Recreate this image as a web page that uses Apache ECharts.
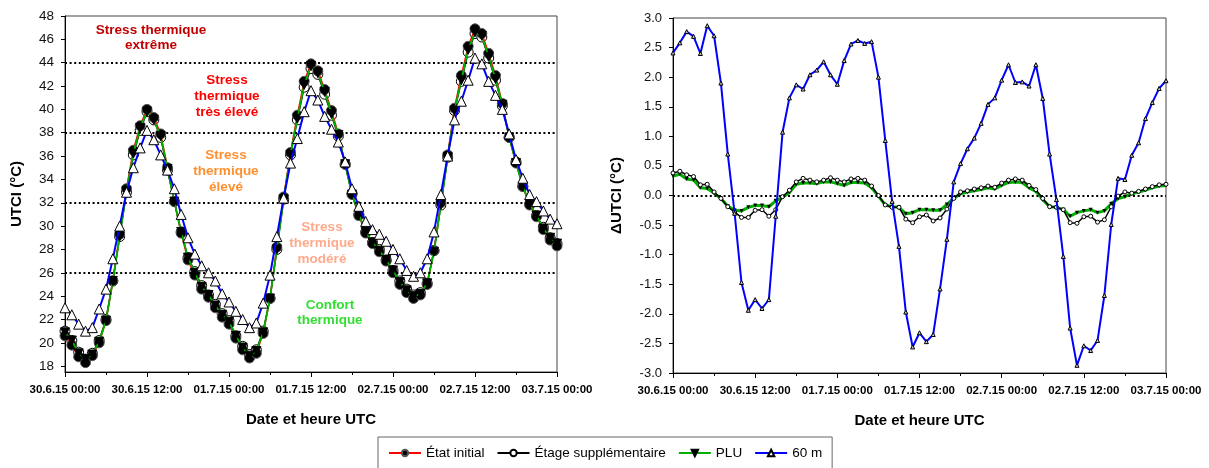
<!DOCTYPE html>
<html>
<head>
<meta charset="utf-8">
<script src="https://cdn.jsdelivr.net/npm/echarts@6/dist/echarts.min.js"></script>
<style>
  html, body { margin: 0; padding: 0; background: #fff; }
  #chart { width: 1209px; height: 468px; }
</style>
</head>
<body>
<div id="chart"></div>
<script>
// hourly values, 30.6.15 00:00 -> 03.7.15 00:00 (73 points)
var xTickLabels = ['30.6.15 00:00', '30.6.15 12:00', '01.7.15 00:00', '01.7.15 12:00', '02.7.15 00:00', '02.7.15 12:00', '03.7.15 00:00'];
var utciTicks = [18, 20, 22, 24, 26, 28, 30, 32, 34, 36, 38, 40, 42, 44, 46, 48];
var stressLimits = [26, 32, 38, 44];

var etatInitial = [20.6, 19.8, 18.8, 18.3, 18.9, 20.0, 21.9, 25.3, 29.3, 33.2, 36.5, 38.6, 40.0, 39.3, 37.9, 35.0, 32.1, 29.4, 27.1, 25.8, 24.6, 23.9, 23.0, 22.2, 21.6,
  20.4, 19.4, 18.7, 19.1, 20.8, 23.8, 28.2, 32.5, 36.3, 39.5, 42.4, 43.9, 43.3, 41.7, 39.9, 37.9, 35.3, 32.7, 30.9, 29.4, 28.5, 27.8, 27.0, 26.0,
  25.0, 24.3, 23.8, 24.1, 25.0, 27.9, 32.0, 36.1, 40.1, 42.9, 45.4, 46.9, 46.5, 44.8, 42.9, 40.5, 37.6, 35.4, 33.4, 31.8, 30.8, 29.7, 28.8, 28.3];
var etageSupp = [21.0, 20.2, 19.2, 18.6, 19.1, 20.2, 22.0, 25.3, 29.1, 32.9, 36.1, 38.2, 39.8, 39.1, 37.6, 34.8, 32.1, 29.5, 27.3, 26.1, 24.9, 24.1, 23.3, 22.5, 21.9,
  20.6, 19.7, 19.0, 19.4, 21.0, 23.8, 28.0, 32.3, 36.1, 39.1, 41.9, 43.5, 43.0, 41.3, 39.5, 37.7, 35.3, 32.8, 31.0, 29.5, 28.6, 28.0, 27.1, 26.2,
  25.3, 24.6, 24.1, 24.3, 25.1, 27.9, 31.8, 35.9, 39.9, 42.4, 44.9, 46.5, 46.2, 44.4, 42.5, 40.3, 37.6, 35.5, 33.4, 31.9, 30.9, 29.9, 29.0, 28.5];
var plu = [20.9, 20.2, 19.1, 18.6, 19.0, 20.1, 21.9, 25.3, 29.1, 33.0, 36.2, 38.4, 39.8, 39.1, 37.7, 34.9, 32.1, 29.5, 27.3, 26.0, 24.8, 24.1, 23.2, 22.4, 21.8,
  20.6, 19.6, 18.9, 19.3, 20.9, 23.8, 28.0, 32.3, 36.1, 39.2, 42.1, 43.7, 43.1, 41.5, 39.6, 37.8, 35.3, 32.7, 31.0, 29.5, 28.6, 27.9, 27.1, 26.2,
  25.2, 24.5, 24.0, 24.2, 25.1, 27.8, 31.8, 35.9, 39.9, 42.5, 45.1, 46.6, 46.3, 44.5, 42.6, 40.4, 37.6, 35.4, 33.4, 31.9, 30.9, 29.8, 29.0, 28.5];
var m60 = [23.0, 22.4, 21.6, 21.0, 21.3, 22.9, 24.6, 27.2, 30.0, 32.9, 35.0, 36.7, 38.2, 37.4, 36.1, 34.8, 33.2, 31.0, 29.0, 27.6, 26.6, 26.0, 25.3, 24.2, 23.5,
  22.7, 22.0, 21.3, 21.7, 23.4, 25.8, 29.1, 32.4, 35.4, 37.5, 39.8, 41.6, 40.8, 39.4, 38.3, 37.2, 35.5, 33.2, 31.7, 30.4, 29.7, 29.3, 28.7, 28.0,
  27.2, 26.2, 25.7, 26.0, 27.2, 29.5, 32.7, 36.0, 39.1, 40.7, 42.5, 44.4, 43.9, 42.4, 41.2, 40.0, 37.9, 35.7, 34.1, 32.7, 32.1, 31.3, 30.6, 30.2];

// differences with the initial state
var dEtage = [0.38, 0.41, 0.35, 0.32, 0.18, 0.19, 0.06, -0.05, -0.19, -0.28, -0.37, -0.37, -0.25, -0.24, -0.35, -0.24, -0.02, 0.09, 0.23, 0.29, 0.26, 0.23, 0.26, 0.30, 0.26,
  0.23, 0.28, 0.29, 0.26, 0.16, 0.0, -0.16, -0.20, -0.20, -0.40, -0.46, -0.36, -0.33, -0.43, -0.38, -0.23, -0.05, 0.06, 0.08, 0.11, 0.13, 0.16, 0.14, 0.21,
  0.26, 0.28, 0.26, 0.17, 0.10, -0.05, -0.19, -0.20, -0.24, -0.46, -0.47, -0.36, -0.35, -0.45, -0.41, -0.19, -0.01, 0.06, 0.04, 0.07, 0.11, 0.15, 0.18, 0.19];
var dPlu = [0.33, 0.36, 0.28, 0.26, 0.13, 0.12, 0.04, -0.05, -0.18, -0.25, -0.26, -0.20, -0.17, -0.17, -0.19, -0.09, -0.03, 0.05, 0.19, 0.21, 0.21, 0.20, 0.23, 0.23, 0.20,
  0.17, 0.22, 0.22, 0.21, 0.13, -0.01, -0.16, -0.19, -0.20, -0.31, -0.29, -0.24, -0.24, -0.25, -0.25, -0.15, -0.05, 0.03, 0.06, 0.08, 0.10, 0.13, 0.11, 0.17,
  0.22, 0.23, 0.22, 0.13, 0.07, -0.07, -0.19, -0.20, -0.24, -0.35, -0.29, -0.26, -0.24, -0.29, -0.26, -0.14, -0.05, -0.02, 0.03, 0.06, 0.09, 0.13, 0.16, 0.17];
var d60m = [2.41, 2.58, 2.77, 2.69, 2.40, 2.87, 2.70, 1.90, 0.70, -0.30, -1.47, -1.94, -1.76, -1.91, -1.76, -0.35, 1.07, 1.65, 1.87, 1.80, 2.04, 2.12, 2.26, 2.04, 1.88,
  2.28, 2.56, 2.62, 2.57, 2.60, 2.00, 0.93, -0.10, -0.86, -1.97, -2.56, -2.32, -2.47, -2.35, -1.58, -0.74, 0.23, 0.54, 0.79, 0.97, 1.22, 1.54, 1.65, 1.95,
  2.21, 1.91, 1.92, 1.85, 2.21, 1.64, 0.70, -0.07, -1.03, -2.24, -2.87, -2.54, -2.62, -2.45, -1.69, -0.49, 0.29, 0.27, 0.68, 0.89, 1.30, 1.57, 1.81, 1.94];

function pts(arr) {
  return arr.map(function (v, i) { return [i, v]; });
}

var FONT = "'Liberation Sans', Arial, sans-serif";

var myChart = echarts.init(document.getElementById('chart'), null, { renderer: 'canvas' });

function xAxisDef(idx) {
  return {
    type: 'value', gridIndex: idx, min: 0, max: 72, interval: 12,
    name: 'Date et heure UTC', nameLocation: 'middle', nameGap: 40,
    nameTextStyle: { fontFamily: FONT, fontWeight: 'bold', fontSize: 15, color: '#000' },
    axisLine: { onZero: false, lineStyle: { color: '#000', width: 1 } },
    axisTick: { length: 5, lineStyle: { color: '#000' } },
    minorTick: { show: true, splitNumber: 2, length: 3, lineStyle: { color: '#000' } },
    splitLine: { show: false },
    axisLabel: {
      margin: 12, fontFamily: FONT, fontWeight: 'bold', fontSize: 11.5, color: '#000',
      formatter: function (v) { return xTickLabels[Math.round(v / 12)]; }
    }
  };
}

var dotted = { color: '#000', width: 1.8, type: [2, 2.6] };

var option = {
  animation: false,
  textStyle: { fontFamily: FONT },
  grid: [
    { left: 65, top: 16, width: 492, height: 356, show: true, borderColor: '#444', borderWidth: 1 },
    { left: 673, top: 18, width: 493, height: 355, show: true, borderColor: '#444', borderWidth: 1 }
  ],
  xAxis: [xAxisDef(0), xAxisDef(1)],
  yAxis: [
    {
      type: 'value', gridIndex: 0, min: 17.5, max: 48,
      name: 'UTCI (°C)', nameLocation: 'middle', nameGap: 41,
      nameTextStyle: { fontFamily: FONT, fontWeight: 'bold', fontSize: 15, color: '#000' },
      axisLine: { show: true, lineStyle: { color: '#000' } },
      axisTick: { show: true, length: 4, customValues: utciTicks, lineStyle: { color: '#000' } },
      splitLine: { show: false },
      axisLabel: { customValues: utciTicks, margin: 11, fontFamily: FONT, fontSize: 13.5, color: '#111' }
    },
    {
      type: 'value', gridIndex: 1, min: -3, max: 3, interval: 0.5,
      name: 'ΔUTCI (°C)', nameLocation: 'middle', nameGap: 49,
      nameTextStyle: { fontFamily: FONT, fontWeight: 'bold', fontSize: 15, color: '#000' },
      axisLine: { show: true, lineStyle: { color: '#000' } },
      axisTick: { show: true, length: 4, lineStyle: { color: '#000' } },
      splitLine: { show: false },
      axisLabel: {
        margin: 11, fontFamily: FONT, fontSize: 13, color: '#111',
        formatter: function (v) { return v.toFixed(1); }
      }
    }
  ],
  legend: {
    left: 378, top: 437,
    padding: [9, 10, 30, 10],
    borderColor: '#666', borderWidth: 1,
    itemWidth: 32, itemHeight: 8, itemGap: 12,
    textStyle: { fontFamily: FONT, fontSize: 13.5, color: '#000' },
    data: ['État initial', 'Étage supplémentaire', 'PLU', '60 m']
  },
  graphic: [
    { type: 'text', x: 151, y: 38, style: { text: 'Stress thermique\nextrême', fill: '#C00000', font: 'bold 13.5px ' + FONT, align: 'center', verticalAlign: 'middle', lineHeight: 15.5 } },
    { type: 'text', x: 227, y: 96, style: { text: 'Stress\nthermique\ntrès élevé', fill: '#FF0000', font: 'bold 13.5px ' + FONT, align: 'center', verticalAlign: 'middle', lineHeight: 15.8 } },
    { type: 'text', x: 226, y: 171, style: { text: 'Stress\nthermique\nélevé', fill: '#FF9030', font: 'bold 13.5px ' + FONT, align: 'center', verticalAlign: 'middle', lineHeight: 15.8 } },
    { type: 'text', x: 322, y: 243, style: { text: 'Stress\nthermique\nmodéré', fill: '#FFAA8C', font: 'bold 13.5px ' + FONT, align: 'center', verticalAlign: 'middle', lineHeight: 16 } },
    { type: 'text', x: 330, y: 313, style: { text: 'Confort\nthermique', fill: '#33DD33', font: 'bold 13.5px ' + FONT, align: 'center', verticalAlign: 'middle', lineHeight: 15.5 } }
  ],
  series: [
    {
      name: 'Étage supplémentaire', type: 'line', xAxisIndex: 0, yAxisIndex: 0, z: 2,
      data: pts(etageSupp), symbol: 'circle', symbolSize: 10,
      lineStyle: { color: '#000', width: 1.5 },
      itemStyle: { color: '#fff', borderColor: '#000', borderWidth: 1 },
      markLine: {
        silent: true, symbol: 'none', label: { show: false }, lineStyle: dotted,
        data: stressLimits.map(function (v) { return { yAxis: v }; })
      }
    },
    {
      name: 'État initial', type: 'line', xAxisIndex: 0, yAxisIndex: 0, z: 3,
      data: pts(etatInitial), symbol: 'circle', symbolSize: 10,
      lineStyle: { color: '#FF0000', width: 1.5 },
      itemStyle: { color: '#000', borderColor: '#555', borderWidth: 1 }
    },
    {
      name: 'PLU', type: 'line', xAxisIndex: 0, yAxisIndex: 0, z: 4,
      data: pts(plu), symbol: 'triangle', symbolRotate: 180, symbolSize: 9,
      lineStyle: { color: '#00B000', width: 1.8 },
      itemStyle: { color: '#000', borderColor: '#000', borderWidth: 1 }
    },
    {
      name: '60 m', type: 'line', xAxisIndex: 0, yAxisIndex: 0, z: 5,
      data: pts(m60), symbol: 'triangle', symbolSize: 10,
      lineStyle: { color: '#0000FF', width: 2 },
      itemStyle: { color: '#fff', borderColor: '#000', borderWidth: 1 }
    },
    {
      name: 'PLU', type: 'line', xAxisIndex: 1, yAxisIndex: 1, z: 2,
      data: pts(dPlu), symbol: 'triangle', symbolRotate: 180, symbolSize: 4,
      lineStyle: { color: '#00B000', width: 3 },
      itemStyle: { color: '#000' },
      markLine: {
        silent: true, symbol: 'none', label: { show: false }, lineStyle: dotted,
        data: [{ yAxis: 0 }]
      }
    },
    {
      name: 'Étage supplémentaire', type: 'line', xAxisIndex: 1, yAxisIndex: 1, z: 3,
      data: pts(dEtage), symbol: 'circle', symbolSize: 4,
      lineStyle: { color: '#000', width: 1.5 },
      itemStyle: { color: '#fff', borderColor: '#000', borderWidth: 1 }
    },
    {
      name: '60 m', type: 'line', xAxisIndex: 1, yAxisIndex: 1, z: 4,
      data: pts(d60m), symbol: 'triangle', symbolSize: 4,
      lineStyle: { color: '#0000FF', width: 2 },
      itemStyle: { color: '#ccc', borderColor: '#000', borderWidth: 1 }
    }
  ]
};

myChart.setOption(option);
</script>
</body>
</html>
